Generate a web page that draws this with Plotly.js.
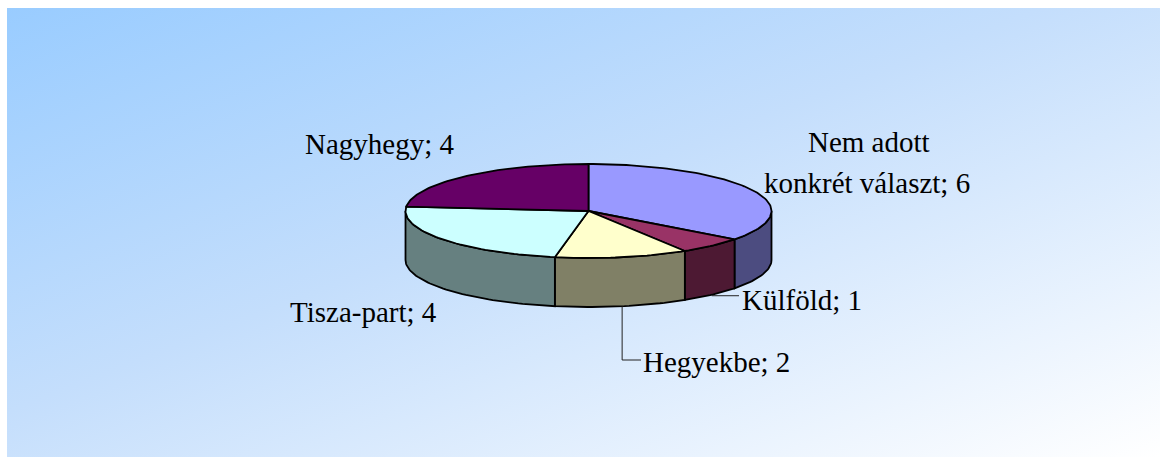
<!DOCTYPE html>
<html>
<head>
<meta charset="utf-8">
<script src="https://cdn.plot.ly/plotly-3.0.1.min.js"></script>
<style>
  html, body { margin:0; padding:0; background:#ffffff; }
  #wrap { position:relative; width:1160px; height:457px; overflow:hidden; }
  #bg { position:absolute; left:7px; top:8px; width:1153px; height:449px;
        background: linear-gradient(to bottom right, #99CCFF 0%, #C4DEFC 45%, #FFFFFF 100%); }
  #chart { position:absolute; left:0; top:0; width:1160px; height:457px; }
</style>
</head>
<body>
<div id="wrap"><div id="bg"></div><div id="chart"></div></div>
<script>
// ---- data ----
const categories = ['Nem adott konkrét választ', 'Külföld', 'Hegyekbe', 'Tisza-part', 'Nagyhegy'];
const values = [6, 1, 2, 4, 4];
const topColors = ['#9999FF', '#993366', '#FFFFCC', '#CCFFFF', '#660066'];
const sideColors = ['#4C4C80', '#4D1933', '#808066', '#668080', '#330033'];

// ---- geometry (layout) ----
const cx = 588.5, cy = 211, rx = 183, ry = 47, depth = 49;
function pt(deg, dy) {
  const r = deg * Math.PI / 180;
  return [cx + rx * Math.sin(r), cy - ry * Math.cos(r) + (dy || 0)];
}
function arc(a0, a1, dy) {
  const n = Math.max(4, Math.ceil(Math.abs(a1 - a0) / 1.5));
  const xs = [], ys = [];
  for (let i = 0; i <= n; i++) {
    const p = pt(a0 + (a1 - a0) * i / n, dy);
    xs.push(p[0]); ys.push(p[1]);
  }
  return [xs, ys];
}

const total = values.reduce((a, b) => a + b, 0);
const starts = [], ends = [];
let acc = 0;
values.forEach(v => { starts.push(acc / total * 360); acc += v; ends.push(acc / total * 360); });

const traces = [];
const lineStyle = { color: '#000000', width: 1.8 };

// side walls (front half only: 90..270 deg clockwise from top)
values.forEach((v, i) => {
  const s0 = Math.max(starts[i], 90), s1 = Math.min(ends[i], 270);
  if (s1 <= s0) return;
  const top = arc(s0, s1, 0);
  const bot = arc(s1, s0, depth);
  const xs = top[0].concat(bot[0], [top[0][0]]);
  const ys = top[1].concat(bot[1], [top[1][0]]);
  traces.push({ type: 'scatter', mode: 'lines', x: xs, y: ys, fill: 'toself',
    fillcolor: sideColors[i], line: lineStyle, hoverinfo: 'skip', showlegend: false });
});

// top faces
values.forEach((v, i) => {
  const a = arc(starts[i], ends[i], 0);
  const xs = [cx].concat(a[0], [cx]);
  const ys = [cy].concat(a[1], [cy]);
  traces.push({ type: 'scatter', mode: 'lines', x: xs, y: ys, fill: 'toself',
    fillcolor: topColors[i], line: lineStyle, hoverinfo: 'skip', showlegend: false });
});

// leader lines for Külföld and Hegyekbe (start at rim, slice mid-angle)
const mid = i => (starts[i] + ends[i]) / 2;
const pK = pt(mid(1), depth);
traces.push({ type: 'scatter', mode: 'lines', x: [pK[0], 739], y: [pK[1] + 1, pK[1] + 1],
  line: { color: '#222', width: 1 }, hoverinfo: 'skip', showlegend: false });
const pH = pt(mid(2), depth);
traces.push({ type: 'scatter', mode: 'lines', x: [pH[0], pH[0], 641], y: [pH[1], 360, 360],
  line: { color: '#222', width: 1 }, hoverinfo: 'skip', showlegend: false });

const font = { family: 'Liberation Serif, Times New Roman, serif', size: 29, color: '#000000' };
const lbl = i => categories[i] + '; ' + values[i];
const annotations = [
  { text: lbl(4), x: 379, y: 144, xanchor: 'center' },
  { text: 'Nem adott', x: 869, y: 142, xanchor: 'center' },
  { text: 'konkrét választ; ' + values[0], x: 867, y: 183, xanchor: 'center' },
  { text: lbl(1), x: 741, y: 300, xanchor: 'left' },
  { text: lbl(2), x: 642, y: 362, xanchor: 'left' },
  { text: lbl(3), x: 363, y: 312, xanchor: 'center' }
].map(a => Object.assign({ xref: 'x', yref: 'y', yanchor: 'middle', showarrow: false, font: font, borderpad: 0 }, a));

const layout = {
  width: 1160, height: 457,
  margin: { l: 0, r: 0, t: 0, b: 0, pad: 0 },
  paper_bgcolor: 'rgba(0,0,0,0)', plot_bgcolor: 'rgba(0,0,0,0)',
  xaxis: { range: [0, 1160], visible: false, fixedrange: true },
  yaxis: { range: [457, 0], visible: false, fixedrange: true },
  annotations: annotations,
  showlegend: false
};
Plotly.newPlot('chart', traces, layout, { displayModeBar: false, staticPlot: true });
</script>
</body>
</html>
